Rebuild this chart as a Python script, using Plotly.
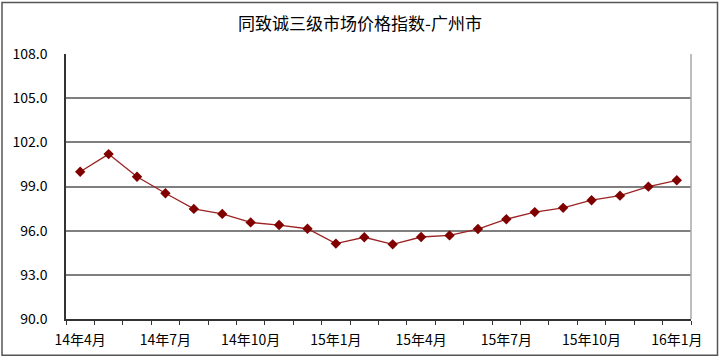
import plotly.graph_objects as go

months = ["14年4月", "14年5月", "14年6月", "14年7月", "14年8月", "14年9月",
          "14年10月", "14年11月", "14年12月", "15年1月", "15年2月", "15年3月",
          "15年4月", "15年5月", "15年6月", "15年7月", "15年8月", "15年9月",
          "15年10月", "15年11月", "15年12月", "16年1月"]
index_values = [100.0, 101.2, 99.66, 98.54, 97.48, 97.14, 96.56, 96.38, 96.13, 95.12,
                95.55, 95.07, 95.57, 95.68, 96.11, 96.78, 97.26, 97.55, 98.07, 98.38,
                98.99, 99.42]
y_ticks = [90, 93, 96, 99, 102, 105, 108]
title_text = "同致诚三级市场价格指数-广州市"

x_idx = list(range(len(months)))
label_idx = x_idx[::3]
label_text = months[::3]
boundaries = [i - 0.5 for i in range(len(months) + 1)]

fig = go.Figure()
fig.add_trace(go.Scatter(
    x=x_idx, y=index_values, mode="lines+markers",
    line=dict(color="#9b2323", width=1.3),
    marker=dict(symbol="diamond", size=8, color="#800000"),
    hoverinfo="y",
))

font_family = "Noto Sans CJK SC"
W, H = 720, 361
L, R, T, B = 66, 29, 54, 40
pw, ph = W - L - R, H - T - B

def px_x(p):
    return (p - L) / pw

def px_y(p):
    return (H - B - p) / ph

fig.update_layout(
    width=W, height=H,
    margin=dict(l=L, r=R, t=T, b=B, pad=0),
    paper_bgcolor="white", plot_bgcolor="white",
    showlegend=False,
    font=dict(family=font_family, color="#000000", size=13),
    title=dict(text=title_text, x=0.5, xanchor="center", y=1 - 24 / H, yanchor="middle",
               font=dict(size=17, family=font_family, color="#000000")),
    xaxis=dict(
        range=[-0.5, len(months) - 0.5], tickmode="array", tickvals=label_idx,
        ticktext=label_text, ticks="", showgrid=False, zeroline=False,
        showline=True, linecolor="#333333", linewidth=1.5,
        ticklabelstandoff=7,
        tickfont=dict(size=14, family=font_family),
        minor=dict(tickmode="array", tickvals=boundaries, ticks="outside",
                   ticklen=4, tickcolor="#333333", tickwidth=1, showgrid=False),
    ),
    yaxis=dict(
        range=[90, 108], tickmode="array", tickvals=y_ticks,
        ticktext=[f"{v:.1f}" for v in y_ticks], ticks="",
        showgrid=True, gridcolor="#7f7f7f", gridwidth=1.5, zeroline=False,
        showline=True, linecolor="#333333", linewidth=1.5,
        ticklabelstandoff=14,
        tickfont=dict(size=14, family=font_family),
    ),
    shapes=[
        dict(type="line", xref="paper", yref="paper", x0=1, x1=1, y0=0, y1=1,
             line=dict(color="#a8a8a8", width=1.5)),
        dict(type="rect", xref="paper", yref="paper",
             x0=px_x(2), x1=px_x(717.5), y0=px_y(357.5), y1=px_y(2),
             line=dict(color="#555555", width=1.5), layer="below"),
    ],
)

fig.write_html("out.html")
